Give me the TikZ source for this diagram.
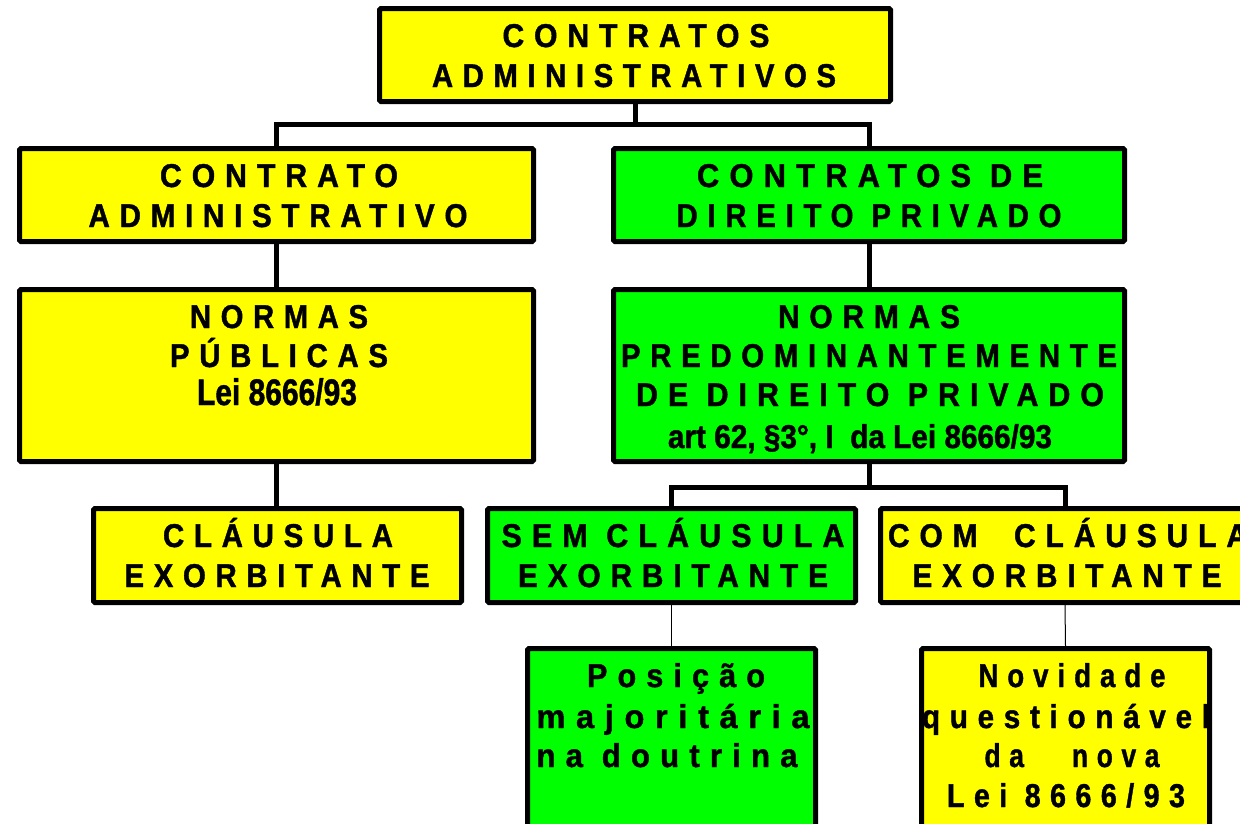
\documentclass[tikz,border=0pt]{standalone}
\usepackage{fontspec}
\usepackage{graphicx}
\setmainfont{Liberation Sans}
\newfontfamily\spfont{Liberation Sans}[FakeStretch=0.85,LetterSpace=28,BoldFeatures={FakeBold=1.2}]
\newfontfamily\nrfont{Liberation Sans}[FakeStretch=0.85,BoldFeatures={FakeBold=1.2}]
\newcommand\fitw[2]{\resizebox{#1pt}{\height}{#2}}
\definecolor{boxyellow}{HTML}{FFFF00}
\definecolor{boxgreen}{HTML}{00FF00}
\tikzset{
  box/.style={draw=black, line width=5pt, rounded corners=1.5pt, rectangle, inner sep=0pt},
  yel/.style={box, fill=boxyellow},
  grn/.style={box, fill=boxgreen},
  conn/.style={draw=black, line width=5pt},
  thin/.style={draw=black, line width=1pt},
  txt/.style={anchor=base, inner sep=0pt, font=\fontsize{33}{40}\spfont\bfseries},
  ntxt/.style={anchor=base, inner sep=0pt, font=\fontsize{33}{40}\nrfont\bfseries},
}
\begin{document}
\begin{tikzpicture}[x=1pt,y=-1pt]
\clip (0,0) rectangle (1240,823);
\fill[white] (0,0) rectangle (1240,823);
% boxes
\node[yel, minimum width=511pt, minimum height=93pt] (top) at (635,55) {};
\node[yel, minimum width=514pt, minimum height=93pt] (ca) at (276.5,195) {};
\node[grn, minimum width=511pt, minimum height=93pt] (cdp) at (869,195) {};
\node[yel, minimum width=514pt, minimum height=172pt] (np) at (276.5,375.5) {};
\node[grn, minimum width=511pt, minimum height=172pt] (npdp) at (869,375.5) {};
\node[yel, minimum width=368pt, minimum height=94pt] (ce) at (277.5,555.5) {};
\node[grn, minimum width=368pt, minimum height=94pt] (sce) at (671.5,555.5) {};
\node[yel, minimum width=369pt, minimum height=94pt] (cce) at (1065,555.5) {};
\node[grn, minimum width=288pt, minimum height=239pt] (pm) at (671.5,768) {};
\node[yel, minimum width=288pt, minimum height=239pt] (nq) at (1065.5,768) {};
% connectors
\draw[conn] (top.south) -- ++(0,20) -| (ca.north);
\draw[conn] (top.south) -- ++(0,20) -| (cdp.north);
\draw[conn] (ca.south) -- (np.north);
\draw[conn] (cdp.south) -- (npdp.north);
\draw[conn] (np.south) -- (np.south |- ce.north);
\draw[conn] (npdp.south) -- ++(0,23) -| (sce.north);
\draw[conn] (npdp.south) -- ++(0,23) -| (cce.north);
\draw[thin] (sce.south) -- (pm.north);
\draw[thin] (cce.south) -- (nq.north);
% texts
\node[txt] (t1) at (636,47) {\fitw{267}{CONTRATOS}};
\node[txt] (t2) at (634,87) {\fitw{404}{ADMINISTRATIVOS}};
\node[txt] (t3) at (279,187) {\fitw{238}{CONTRATO}};
\node[txt] (t4) at (278,227) {\fitw{379}{ADMINISTRATIVO}};
\node[txt] (t5) at (870,187) {\fitw{346}{CONTRATOS DE}};
\node[txt] (t6) at (869,227) {\fitw{385}{DIREITO PRIVADO}};
\node[txt] (t7) at (279,328) {\fitw{178}{NORMAS}};
\node[txt] (t8) at (279,367) {\fitw{218}{PÚBLICAS}};
\node[ntxt, font=\fontsize{37}{40}\nrfont\bfseries] (t9) at (277,405) {\fitw{160}{Lei 8666/93}};
\node[txt] (t10) at (869,328) {\fitw{182}{NORMAS}};
\node[txt] (t11) at (869,367) {\fitw{496}{PREDOMINANTEMENTE}};
\node[txt] (t12) at (870,406) {\fitw{468}{DE DIREITO PRIVADO}};
\node[ntxt] (t13) at (860,448) {\fitw{384}{art 62, §3°, I\ \ da Lei 8666/93}};
\node[txt] (t14) at (278,547) {\fitw{230}{CLÁUSULA}};
\node[txt] (t15) at (277,587) {\fitw{305}{EXORBITANTE}};
\node[txt] (t16) at (673,547) {\fitw{343}{SEM CLÁUSULA}};
\node[txt] (t17) at (673,587) {\fitw{310}{EXORBITANTE}};
\node[txt] (t18) at (1068,547) {\fitw{360}{COM\ \ CLÁUSULA}};
\node[txt] (t19) at (1067,587) {\fitw{309}{EXORBITANTE}};
\node[txt] (t20) at (676,687) {\fitw{178}{Posição}};
\node[txt] (t21) at (673,728) {\fitw{273}{majoritária}};
\node[txt] (t22) at (667,767) {\fitw{261}{na doutrina}};
\node[txt] (t23) at (1072,687) {\fitw{187}{Novidade}};
\node[txt] (t24) at (1066,728) {\fitw{288}{questionável}};
\node[txt] (t25) at (1072,767) {\fitw{175}{da\ \ \ nova}};
\node[txt] (t26) at (1066,807) {\fitw{238}{Lei 8666/93}};
\end{tikzpicture}
\end{document}
